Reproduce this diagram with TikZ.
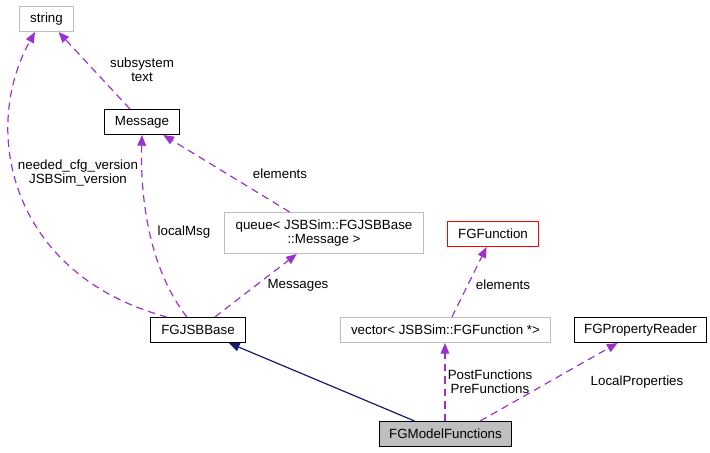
\documentclass[tikz,border=0pt]{standalone}
\usepackage{fontspec}
\setmainfont{Liberation Sans}
\usetikzlibrary{arrows.meta}
\definecolor{usecol}{RGB}{154,50,205}
\definecolor{inhcol}{RGB}{25,25,112}
\definecolor{extcol}{RGB}{191,191,191}
\tikzset{
  cls/.style={draw=black,line width=0.75pt,fill=white,inner sep=0pt,
    minimum height=18.75pt,font=\fontsize{10}{10.5}\selectfont},
  ext/.style={cls,draw=extcol},
  lbl/.style={align=center,inner sep=0pt,font=\fontsize{10}{10.5}\selectfont},
  uses/.style={draw=usecol,line width=0.9pt,dash pattern=on 5.5pt off 3.8pt,
    -{Triangle[length=8pt,width=6.5pt,fill=usecol]}},
  inh/.style={draw=inhcol,line width=0.9pt,
    -{Triangle[length=8pt,width=6.5pt,fill=inhcol]}}
}

\begin{document}
\begin{tikzpicture}[x=0.75pt,y=-0.75pt]
  \useasboundingbox (0,0) rectangle (710,453);

  % classes
  \node[ext,minimum width=40.5pt]    (str)  at (46.5,19)  {string};
  \node[cls,minimum width=56.25pt]   (msg)  at (142,122)  {Message};
  \node[ext,minimum width=149.25pt,minimum height=30.75pt,align=center]
                                     (que)  at (324,233)  {queue< JSBSim::FGJSBBase\\::Message >};
  \node[cls,draw=red,minimum width=68.25pt] (fun) at (493,234) {FGFunction};
  \node[cls,minimum width=71.25pt]   (jsb)  at (198,330)  {FGJSBBase};
  \node[ext,minimum width=157.5pt]   (vec)  at (445.5,330) {vector< JSBSim::FGFunction *>};
  \node[cls,minimum width=99pt]      (prop) at (640.5,330) {FGPropertyReader};
  \node[cls,fill=extcol,minimum width=99pt] (mf) at (445.5,434) {FGModelFunctions};

  % edges
  \draw[inh] (mf) -- (jsb);
  \draw[uses] (msg) -- (str);
  \draw[uses] ([xshift=-23.3pt]jsb.north) .. controls (10,275) and (-20,130) .. ([xshift=-8.6pt]str.south);
  \draw[uses] ([xshift=-8.3pt]jsb.north) .. controls (150,270) and (140,200) .. (msg.south);
  \draw[uses] (que) -- (msg);
  \draw[uses] (jsb) -- (que);
  \draw[uses] (vec) -- (fun);
  \draw[uses] ([xshift=-0.4pt]mf.north) -- ([xshift=-0.4pt]vec.south);
  \draw[uses] ([xshift=26pt]mf.north) -- (prop);

  % labels
  \node[lbl] (l1) at (142,70)  {subsystem\\text};
  \node[lbl] (l2) at (78,173)  {needed\_cfg\_version\\JSBSim\_version};
  \node[lbl] (l3) at (184,232) {localMsg};
  \node[lbl] (l4) at (280,174) {elements};
  \node[lbl] (l5) at (298,285) {Messages};
  \node[lbl] (l6) at (503,285) {elements};
  \node[lbl] (l7) at (490,382) {PostFunctions\\PreFunctions};
  \node[lbl] (l8) at (637,382) {LocalProperties};
\end{tikzpicture}
\end{document}
